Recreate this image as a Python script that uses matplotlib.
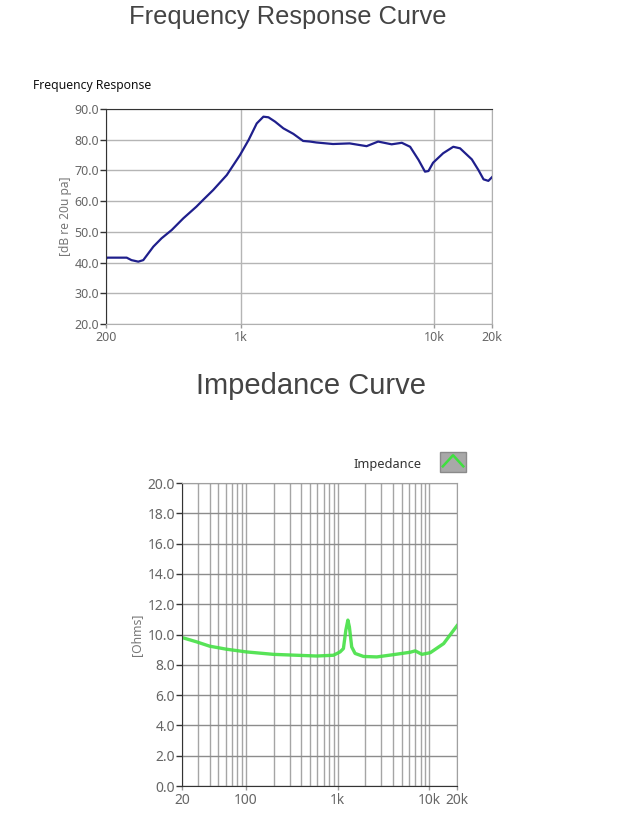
import numpy as np
import matplotlib
matplotlib.use('Agg')
import matplotlib.pyplot as plt
from matplotlib.ticker import FixedLocator, FixedFormatter, FormatStrFormatter, LogLocator, NullFormatter
from matplotlib.legend_handler import HandlerBase
from matplotlib.patches import Rectangle
from matplotlib.lines import Line2D

# frequency response
fr_freq = [200, 202, 256, 271, 294, 312, 352, 388, 438, 503, 588, 637, 718, 845,
           989, 1096, 1208, 1308, 1389, 1502, 1660, 1870, 2100, 2280, 2460,
           3000, 3660, 4480, 5140, 6040, 6820, 7530, 8330, 8990, 9370, 9900,
           11170, 12600, 13660, 15720, 17020, 18080, 19150, 20000]
fr_db = [41.1, 41.6, 41.6, 40.8, 40.3, 40.8, 45.2, 47.9, 50.6, 54.4, 58.2, 60.4,
         63.6, 68.5, 75.0, 79.9, 85.3, 87.5, 87.3, 85.9, 83.7, 81.9, 79.6, 79.4,
         79.1, 78.6, 78.8, 77.9, 79.4, 78.5, 79.0, 77.7, 73.4, 69.6, 69.8, 72.5,
         75.6, 77.7, 77.2, 73.6, 70.1, 67.1, 66.6, 67.8]
fr_ticks = [200, 1000, 10000, 20000]
fr_ticklabels = ['200', '1k', '10k', '20k']

# impedance
imp_freq = [20, 29, 40, 61, 101, 198, 356, 589, 897, 1060, 1153, 1226, 1290,
            1340, 1420, 1546, 1911, 2670, 4060, 6180, 7010, 8290, 10230, 14300, 20000]
imp_ohm = [9.8, 9.51, 9.23, 9.03, 8.85, 8.69, 8.63, 8.58, 8.63, 8.85, 9.07, 10.29,
           10.95, 10.5, 9.18, 8.75, 8.55, 8.52, 8.67, 8.83, 8.92, 8.69, 8.8, 9.4, 10.58]
imp_ticks = [20, 100, 1000, 10000, 20000]
imp_ticklabels = ['20', '100', '1k', '10k', '20k']

plt.rcParams['font.family'] = ['Noto Sans', 'DejaVu Sans']


class SwatchHandler(HandlerBase):
    def create_artists(self, legend, orig, xd, yd, w, h, fontsize, trans):
        bg = Rectangle((xd, yd - 0.45 * h), w, 1.9 * h, facecolor='#a8a8a8',
                       edgecolor='#8a8a8a', lw=1, transform=trans)
        ln = Line2D([xd + 0.1 * w, xd + 0.5 * w, xd + 0.9 * w],
                    [yd + 0.05 * h, yd + 1.1 * h, yd + 0.05 * h],
                    color='#3ee03e', lw=1.8, transform=trans)
        return [bg, ln]


fig = plt.figure(figsize=(6.4, 8.14), dpi=100)

fig.text(288 / 640, 1 - 17 / 814, 'Frequency Response Curve', ha='center', va='center',
         fontsize=18.4, color='#444444', family='Liberation Sans')
fig.text(311 / 640, 1 - 386 / 814, 'Impedance Curve', ha='center', va='center',
         fontsize=21, color='#444444', family='Liberation Sans')
fig.text(33 / 640, 1 - 86 / 814, 'Frequency Response', ha='left', va='center',
         fontsize=8.8, color='#111111')

# --- frequency response ---
ax1 = fig.add_axes([106 / 640, 1 - 324 / 814, 386 / 640, 215 / 814])
ax1.plot(fr_freq, fr_db, color='#1f1f8c', lw=1.6)
ax1.set_xscale('log')
ax1.set_xlim(200, 20000)
ax1.set_ylim(20, 90)
ax1.xaxis.set_major_locator(FixedLocator(fr_ticks))
ax1.xaxis.set_major_formatter(FixedFormatter(fr_ticklabels))
ax1.xaxis.set_minor_locator(FixedLocator([]))
ax1.set_yticks(np.arange(20, 91, 10))
ax1.yaxis.set_major_formatter(FormatStrFormatter('%.1f'))
ax1.grid(True, color='#b5b5b5', lw=1)
ax1.set_axisbelow(True)
ax1.tick_params(axis='y', direction='out', length=4, width=1, color='#333333',
                labelcolor='#666666', labelsize=9, pad=1)
ax1.tick_params(axis='x', direction='out', length=3, width=1, color='#999999',
                labelcolor='#666666', labelsize=9, pad=2)
ax1.set_ylabel('[dB re 20u pa]', fontsize=8.6, color='#777777', labelpad=2)
for s in ['left', 'top']:
    ax1.spines[s].set_color('#333333')
for s in ['right', 'bottom']:
    ax1.spines[s].set_color('#b0b0b0')

# --- impedance ---
ax2 = fig.add_axes([182 / 640, 1 - 786 / 814, 275 / 640, 303 / 814])
line, = ax2.plot(imp_freq, imp_ohm, color='#45e045', lw=2.4, alpha=0.9)
ax2.set_xscale('log')
ax2.set_xlim(20, 20000)
ax2.set_ylim(0, 20)
ax2.xaxis.set_major_locator(FixedLocator(imp_ticks))
ax2.xaxis.set_major_formatter(FixedFormatter(imp_ticklabels))
ax2.xaxis.set_minor_locator(LogLocator(base=10, subs=np.arange(2, 10)))
ax2.xaxis.set_minor_formatter(NullFormatter())
ax2.set_yticks(np.arange(0, 21, 2))
ax2.yaxis.set_major_formatter(FormatStrFormatter('%.1f'))
ax2.grid(True, which='major', axis='y', color='#8c8c8c', lw=1)
ax2.grid(True, which='both', axis='x', color='#a5a5a5', lw=1)
ax2.set_axisbelow(True)
ax2.tick_params(axis='y', direction='out', length=4, width=1, color='#333333',
                labelcolor='#666666', labelsize=10, pad=1)
ax2.tick_params(axis='x', which='major', direction='out', length=3, width=1,
                color='#999999', labelcolor='#666666', labelsize=10, pad=2)
ax2.tick_params(axis='x', which='minor', length=0)
ax2.set_ylabel('[Ohms]', fontsize=8.8, color='#777777', labelpad=3)
for s in ['left', 'bottom']:
    ax2.spines[s].set_color('#333333')
for s in ['right', 'top']:
    ax2.spines[s].set_color('#a0a0a0')

ax2.legend(handles=[line], labels=['Impedance'], loc='lower right',
           bbox_to_anchor=(1.06, 1.015), frameon=False, markerfirst=False,
           handler_map={line: SwatchHandler()}, handlelength=2.0, handleheight=0.9,
           handletextpad=1.5, fontsize=9.2, labelcolor='#333333', borderaxespad=0.2)

fig.savefig('out.png', dpi=100, facecolor='white')
